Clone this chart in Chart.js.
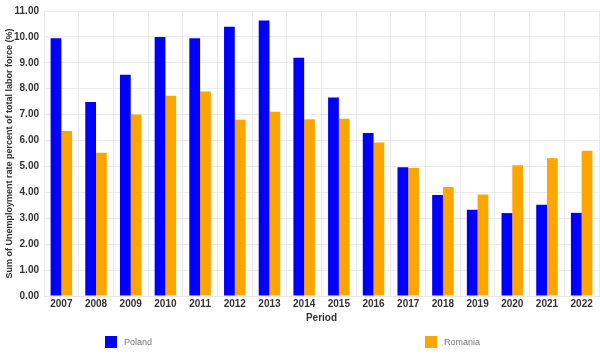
<!DOCTYPE html>
<html>
<head>
<meta charset="utf-8">
<script src="https://cdn.jsdelivr.net/npm/chart.js@4/dist/chart.umd.min.js"></script>
<style>
html,body{margin:0;padding:0;background:#fff;}
#wrap{width:600px;height:363px;}
</style>
</head>
<body>
<div id="wrap"><canvas id="c" width="600" height="363"></canvas></div>
<script>
const periods = ["2007","2008","2009","2010","2011","2012","2013","2014","2015","2016","2017","2018","2019","2020","2021","2022"];
const poland = [9.95,7.49,8.54,10.00,9.95,10.39,10.63,9.20,7.66,6.29,4.97,3.90,3.33,3.20,3.52,3.21];
const romania = [6.37,5.53,7.01,7.73,7.89,6.80,7.11,6.82,6.84,5.92,4.94,4.21,3.92,5.05,5.32,5.61];
const yTicks = [0,1,2,3,4,5,6,7,8,9,10,11];

const FONT = '"Liberation Sans", Arial, sans-serif';

const legendPlugin = {
  id: 'spreadLegend',
  afterDraw(chart) {
    const ctx = chart.ctx;
    const xs = [105, 425];
    ctx.save();
    ctx.font = '9px ' + FONT;
    ctx.textBaseline = 'middle';
    chart.data.datasets.forEach((ds, i) => {
      const x = xs[i], y = 336;
      ctx.fillStyle = ds.backgroundColor;
      ctx.fillRect(x, y, 12, 12);
      ctx.fillStyle = '#777';
      ctx.fillText(ds.label, x + 19, y + 6.5);
    });
    ctx.restore();
  }
};

new Chart(document.getElementById('c'), {
  type: 'bar',
  data: {
    labels: periods,
    datasets: [
      {label: 'Poland', data: poland, backgroundColor: '#0000FF', borderWidth: 0},
      {label: 'Romania', data: romania, backgroundColor: '#FFA500', borderWidth: 0}
    ]
  },
  options: {
    responsive: false,
    animation: false,
    devicePixelRatio: 1,
    layout: {padding: {top: 5, right: 1, left: 0, bottom: 39}},
    plugins: {legend: {display: false}, tooltip: {enabled: false}},
    datasets: {bar: {categoryPercentage: 0.62, barPercentage: 1.0}},
    scales: {
      x: {
        grid: {color: '#ececec', drawTicks: false, offset: true},
        border: {color: '#e6e6e6'},
        ticks: {color: '#333', font: {family: FONT, size: 10, weight: 'bold'}, padding: 2, maxRotation: 0},
        title: {display: true, text: 'Period', color: '#333', font: {family: FONT, size: 10, weight: 'bold'}, padding: {top: 0, bottom: 0}}
      },
      y: {
        min: 0, max: 11,
        afterBuildTicks(axis) { axis.ticks = yTicks.map(v => ({value: v})); },
        afterFit(axis) { axis.width = 44; },
        grid: {color: '#ececec', drawTicks: false},
        border: {display: false},
        ticks: {color: '#333', font: {family: FONT, size: 10, weight: 'bold'}, padding: 5, callback: v => Number(v).toFixed(2)},
        title: {display: true, text: 'Sum of Unemployment rate percent of total labor force (%)', color: '#333', font: {family: FONT, size: 9, weight: 'bold'}, padding: {top: 4, bottom: 0}}
      }
    }
  },
  plugins: [legendPlugin]
});
</script>
</body>
</html>
